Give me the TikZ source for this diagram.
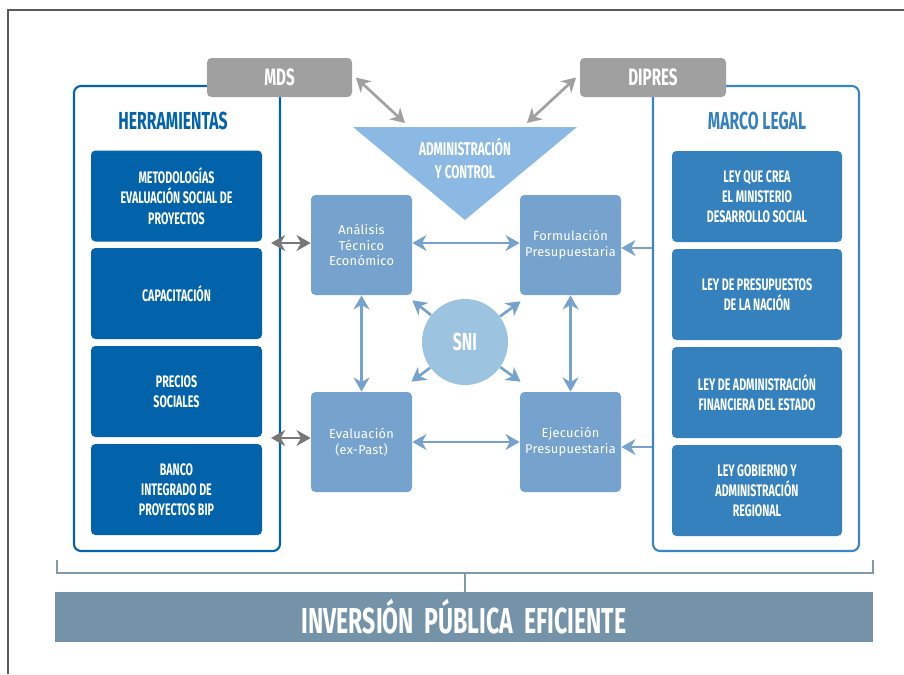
\documentclass[tikz,border=0pt]{standalone}
\usepackage{fontspec}
\setmainfont{Fira Sans}
\newfontfamily\condfont{Fira Sans}[FakeStretch=0.64]
\newfontfamily\boxfont{Fira Sans}[LetterSpace=2]
\usetikzlibrary{arrows.meta,calc}

\definecolor{herrblue}{HTML}{0262AA}
\definecolor{marcoblue}{HTML}{3581BE}
\definecolor{marcoline}{HTML}{3A85C5}
\definecolor{cenblue}{HTML}{76A3CD}
\definecolor{admblue}{HTML}{8BB9E3}
\definecolor{sniblue}{HTML}{9CC3E0}
\definecolor{mdsgray}{HTML}{A0A0A0}
\definecolor{arrgray}{HTML}{777777}
\definecolor{bannerblue}{HTML}{7492A8}
\definecolor{bracketblue}{HTML}{8199AB}
\definecolor{framegray}{HTML}{5A5A5A}

\newlength\pxl
\setlength\pxl{0.02cm}

\begin{document}
\begin{tikzpicture}[x=0.02cm,y=-0.02cm,
  >={Stealth[length=8pt,width=9pt,inset=2.5pt]},
  graybox/.style={fill=mdsgray,rounded corners=2.5pt,minimum width=145\pxl,minimum height=39\pxl,
    text=white,font=\condfont\bfseries\fontsize{13.5}{15}\selectfont},
  frame/.style={draw,fill=white,line width=1.2pt,rounded corners=4pt,minimum width=206\pxl,minimum height=465\pxl},
  title/.style={font=\condfont\bfseries\fontsize{14}{16}\selectfont},
  toolbox/.style={rounded corners=2.5pt,minimum width=171\pxl,minimum height=91\pxl,text=white,align=center,
    font=\condfont\bfseries\fontsize{9.5}{11.5}\selectfont},
  stagebox/.style={fill=cenblue,rounded corners=2.5pt,minimum width=101\pxl,minimum height=100\pxl,
    inner xsep=1pt,text=white,align=center,font=\boxfont\fontsize{7.3}{9}\selectfont},
  bluearr/.style={draw=cenblue,line width=1.5pt},
  grayarr/.style={draw=arrgray,line width=1.5pt},
  bracket/.style={draw=bracketblue,line width=1.1pt}]

\useasboundingbox (0,0) rectangle (904,674);
\draw[framegray,line width=0.9pt] (8,674)--(8,10)--(904,10);

% frames
\node[frame,draw=herrblue] (herr) at (177,318.5) {};
\node[frame,draw=marcoline] (marco) at (756,318.5) {};
\node[graybox] (mds) at (279.5,77.5) {MDS};
\node[graybox,minimum width=146\pxl] (dipres) at (653,77.5) {DIPRES};

\node[title,text=herrblue] (herrtit) at (173,121) {HERRAMIENTAS};
\node[title,text=marcoblue] (marcotit) at (757,121) {MARCO LEGAL};

% herramientas
\node[toolbox,fill=herrblue] (met) at (176.5,196) {METODOLOGÍAS\\EVALUACIÓN SOCIAL DE\\PROYECTOS};
\node[toolbox,fill=herrblue] (cap) at (176.5,293.5) {CAPACITACIÓN};
\node[toolbox,fill=herrblue] (pre) at (176.5,391.5) {PRECIOS\\SOCIALES};
\node[toolbox,fill=herrblue] (bip) at (176.5,489.5) {BANCO\\INTEGRADO DE\\PROYECTOS BIP};

% marco legal
\node[toolbox,fill=marcoblue,minimum width=170\pxl] (ley1) at (757,196.5) {LEY QUE CREA\\EL MINISTERIO\\DESARROLLO SOCIAL};
\node[toolbox,fill=marcoblue,minimum width=170\pxl] (ley2) at (757,294.5) {LEY DE PRESUPUESTOS\\DE LA NACIÓN};
\node[toolbox,fill=marcoblue,minimum width=170\pxl] (ley3) at (757,392.5) {LEY DE ADMINISTRACIÓN\\FINANCIERA DEL ESTADO};
\node[toolbox,fill=marcoblue,minimum width=170\pxl] (ley4) at (757,490.5) {LEY GOBIERNO Y\\ADMINISTRACIÓN\\REGIONAL};

% administracion y control
\fill[admblue] (353,127)--(577,127)--(465,220)--cycle;
\node[text=white,align=center,font=\condfont\bfseries\fontsize{10.5}{13}\selectfont] (adm) at (465,158) {ADMINISTRACIÓN\\Y CONTROL};
\coordinate (admL) at (405,123);
\coordinate (admR) at (527,123);

% ciclo
\node[stagebox] (ana) at (361.5,245) {Análisis\\Técnico\\Económico};
\node[stagebox] (form) at (570.5,245) {Formulación\\Presupuestaria};
\node[stagebox] (eval) at (361.5,442) {Evaluación\\(ex-Past)};
\node[stagebox] (ejec) at (570.5,442) {Ejecución\\Presupuestaria};
\node[circle,fill=sniblue,minimum size=86\pxl,inner sep=0pt,text=white,
  font=\condfont\bfseries\fontsize{14}{16}\selectfont] (sni) at (465,342) {SNI};

% arrows
\draw[grayarr,<->,draw=mdsgray] ([xshift=2pt]mds.east) -- (admL);
\draw[grayarr,<->,draw=mdsgray] ([xshift=-2pt]dipres.west) -- (admR);
\draw[grayarr,<->] ($(herr.east |- ana.west)+(-10,-2)$) -- ($(ana.west)+(0,-2)$);
\draw[grayarr,<->] ($(herr.east |- eval.west)+(-10,-4)$) -- ($(eval.west)+(0,-4)$);

\draw[bluearr,<->] ($(ana.east)+(0,-2)$) -- ($(form.west)+(0,-2)$);
\draw[bluearr,<->] (eval.east) -- (ejec.west);
\draw[bluearr,<->] (ana.south) -- (eval.north);
\draw[bluearr,<->] (form.south) -- (ejec.north);
\draw[bluearr,->] ($(marco.west |- form.east)+(0,3)$) -- ($(form.east)+(0,3)$);
\draw[bluearr,->] ($(marco.west |- ejec.east)+(0,5)$) -- ($(ejec.east)+(0,5)$);

\draw[bluearr,->] (sni) -- ($(ana.south east)+(0,5)$);
\draw[bluearr,->] (sni) -- ($(form.south west)+(1,6)$);
\draw[bluearr,->] (sni) -- ($(eval.north east)+(-1,-10)$);
\draw[bluearr,->] (sni) -- ($(ejec.north west)+(1,-10)$);

% inversion
\node[fill=bannerblue,minimum width=818\pxl,minimum height=50\pxl,text=white,
  font=\condfont\bfseries\fontsize{20.5}{22}\selectfont] (banner) at (464,617) {INVERSIÓN\ \ PÚBLICA\ \ EFICIENTE};
\coordinate (brL) at (57,560);
\coordinate (brR) at (873,560);
\coordinate (brM) at (465,573);
\draw[bracket] (brL) -- (brL |- brM) -- (brR |- brM) -- (brR);
\draw[bracket] (brM) -- (brM |- banner.north);

\end{tikzpicture}
\end{document}
